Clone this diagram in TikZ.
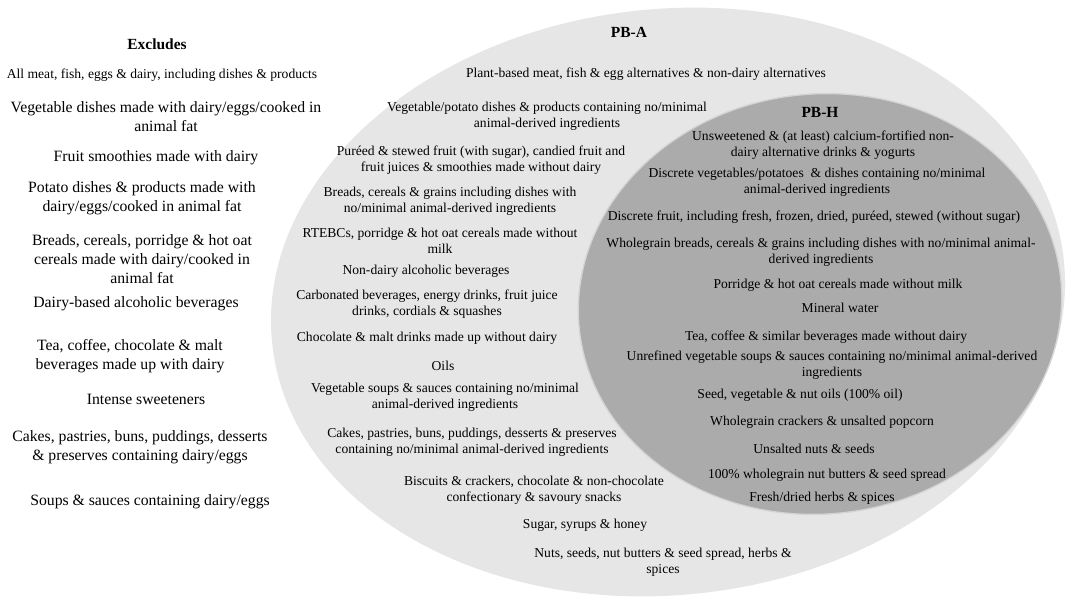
\documentclass[tikz,border=0pt]{standalone}
\usepackage{fontspec}
\setmainfont{Liberation Serif}
\usepackage{xcolor}
\usepackage{tikz}
\usetikzlibrary{positioning}
\definecolor{pbaGray}{HTML}{E6E6E6}
\definecolor{pbhGray}{HTML}{ABABAB}
\definecolor{pbhRim}{HTML}{D4D4D4}

\begin{document}
\begin{tikzpicture}[x=0.75pt, y=-0.75pt,
  excl/.style={align=center, inner sep=0pt, font=\fontsize{11.8}{14.3}\selectfont},
  item/.style={align=center, inner sep=0pt, font=\fontsize{10.2}{12}\selectfont},
  head/.style={inner sep=0pt, font=\fontsize{11.6}{14}\selectfont\bfseries}]
  \useasboundingbox (0,0) rectangle (1066,599);

  \fill[pbaGray, rotate around={6:(668,302)}] (668,302) ellipse [x radius=398, y radius=293];
  \filldraw[fill=pbhGray, draw=pbhRim, line width=1, rotate around={6:(820,304)}] (820,304) ellipse [x radius=242, y radius=210];

  \node[head] (excludes) at (157,44) {Excludes};
  \node[excl, font=\fontsize{10.2}{12.5}\selectfont] (ex1) at (162,75) {All meat, fish, eggs \& dairy, including dishes \& products};
  \node[excl] (ex2) at (166,117) {Vegetable dishes made with dairy/eggs/cooked in\\animal fat};
  \node[excl] (ex3) at (156,158) {Fruit smoothies made with dairy};
  \node[excl] (ex4) at (142,198) {Potato dishes \& products made with\\dairy/eggs/cooked in animal fat};
  \node[excl] (ex5) at (142,259) {Breads, cereals, porridge \& hot oat\\cereals made with dairy/cooked in\\animal fat};
  \node[excl] (ex6) at (136,304) {Dairy-based alcoholic beverages};
  \node[excl] (ex7) at (130,356) {Tea, coffee, chocolate \& malt\\beverages made up with dairy};
  \node[excl] (ex8) at (146,399) {Intense sweeteners};
  \node[excl] (ex9) at (140,447) {Cakes, pastries, buns, puddings, desserts\\\& preserves containing dairy/eggs};
  \node[excl] (ex10) at (150,502) {Soups \& sauces containing dairy/eggs};

  \node[head] (pba) at (629,32) {PB-A};
  \node[item] (a1) at (646,74) {Plant-based meat, fish \& egg alternatives \& non-dairy alternatives};
  \node[item] (a2) at (547,116) {Vegetable/potato dishes \& products containing no/minimal\\animal-derived ingredients};
  \node[item] (a3) at (481,160) {Puréed \& stewed fruit (with sugar), candied fruit and\\fruit juices \& smoothies made without dairy};
  \node[item] (a4) at (450,201) {Breads, cereals \& grains including dishes with\\no/minimal animal-derived ingredients};
  \node[item] (a5) at (440,241) {RTEBCs, porridge \& hot oat cereals made without\\milk};
  \node[item] (a6) at (426,271) {Non-dairy alcoholic beverages};
  \node[item] (a7) at (427,304) {Carbonated beverages, energy drinks, fruit juice\\drinks, cordials \& squashes};
  \node[item] (a8) at (427,338) {Chocolate \& malt drinks made up without dairy};
  \node[item] (a9) at (443,366) {Oils};
  \node[item] (a10) at (445,397) {Vegetable soups \& sauces containing no/minimal\\animal-derived ingredients};
  \node[item] (a11) at (472,442) {Cakes, pastries, buns, puddings, desserts \& preserves\\containing no/minimal animal-derived ingredients};
  \node[item] (a12) at (534,490) {Biscuits \& crackers, chocolate \& non-chocolate\\confectionary \& savoury snacks};
  \node[item] (a13) at (585,525) {Sugar, syrups \& honey};
  \node[item] (a14) at (663,562) {Nuts, seeds, nut butters \& seed spread, herbs \&\\spices};

  \node[head] (pbh) at (820,112) {PB-H};
  \node[item] (h1) at (823,145) {Unsweetened \& (at least) calcium-fortified non-\\dairy alternative drinks \& yogurts};
  \node[item] (h2) at (817,182) {Discrete vegetables/potatoes~ \& dishes containing no/minimal\\animal-derived ingredients};
  \node[item] (h3) at (814,217) {Discrete fruit, including fresh, frozen, dried, puréed, stewed (without sugar)};
  \node[item] (h4) at (821,252) {Wholegrain breads, cereals \& grains including dishes with no/minimal animal-\\derived ingredients};
  \node[item] (h5) at (838,285) {Porridge \& hot oat cereals made without milk};
  \node[item] (h6) at (840,308) {Mineral water};
  \node[item] (h7) at (826,337) {Tea, coffee \& similar beverages made without dairy};
  \node[item] (h8) at (832,365) {Unrefined vegetable soups \& sauces containing no/minimal animal-derived\\ingredients};
  \node[item] (h9) at (800,395) {Seed, vegetable \& nut oils (100\% oil)};
  \node[item] (h10) at (822,422) {Wholegrain crackers \& unsalted popcorn};
  \node[item] (h11) at (814,449) {Unsalted nuts \& seeds};
  \node[item] (h12) at (827,475) {100\% wholegrain nut butters \& seed spread};
  \node[item] (h13) at (822,498) {Fresh/dried herbs \& spices};
\end{tikzpicture}
\end{document}
